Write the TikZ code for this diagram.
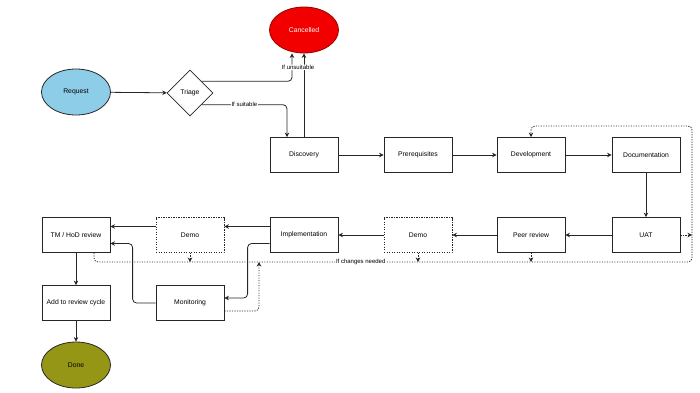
\documentclass[tikz,border=0pt]{standalone}
\usepackage{fontspec}
\setmainfont{Liberation Sans}
\usepackage{xcolor}
\usetikzlibrary{arrows.meta,shapes.geometric,calc}
\definecolor{reqblue}{RGB}{142,205,232}
\definecolor{cancelred}{RGB}{242,0,0}
\definecolor{doneolive}{RGB}{150,150,22}

\begin{document}
\begin{tikzpicture}[x=1pt, y=-1pt, line width=0.8pt,
    stepbox/.style={draw=black!85, fill=white, minimum width=68pt, minimum height=35pt, inner sep=1pt, font=\fontsize{6.8}{8}\selectfont},
    demobox/.style={stepbox, dash pattern=on 1.2pt off 1.3pt},
    terminal/.style={ellipse, draw=black!85, minimum width=69pt, minimum height=46pt, inner sep=0pt, font=\fontsize{6.8}{8}\selectfont},
    flow/.style={draw=black!85, rounded corners=4pt, -{Stealth[length=4.5pt,width=4.5pt]}},
    rework/.style={flow, dash pattern=on 1.2pt off 1.3pt},
    cond/.style={fill=white, inner sep=0.6pt, font=\fontsize{6}{7}\selectfont}
]
\useasboundingbox (0,0) rectangle (700,392);
\node[terminal, fill=cancelred, draw=red!60!black, text=white] (cancel) at (304,30) {Cancelled};
\node[terminal, fill=reqblue] (request) at (76,92) {Request};
\node[diamond, draw=black!85, fill=white, aspect=1, minimum size=46pt, inner sep=0pt, font=\fontsize{6.8}{8}\selectfont] (triage) at (190,93) {Triage};
\foreach \x/\name/\txt in {304/disc/Discovery, 418/prereq/Prerequisites, 531/dev/Development, 646/doc/Documentation} {
    \node[stepbox] (\name) at (\x,155) {\txt};
}
\node[stepbox] (review) at (76,235) {TM / HoD review};
\node[demobox] (demoa) at (190,235) {Demo};
\node[stepbox] (impl) at (304,235) {Implementation};
\node[demobox] (demob) at (418,235) {Demo};
\node[stepbox] (peer) at (531,235) {Peer review};
\node[stepbox] (uat) at (646,235) {UAT};
\node[stepbox] (cycle) at (76,303) {Add to review cycle};
\node[stepbox] (monitor) at (190,303) {Monitoring};
\node[terminal, fill=doneolive] (done) at (76,365) {Done};
\coordinate (loopcorner) at (692,262);
\coordinate (looptop) at (692,126);
\coordinate (monjoin) at (259,262);

\draw[flow] (request) -- (triage);
\draw[flow] (disc.north) -- (cancel.south);
\draw[flow] (triage.north east) -| ([xshift=-12pt]cancel.south) node[cond, pos=0.75, xshift=6pt] {If unsuitable};
\draw[flow] (triage.south east) -| ([xshift=-17pt]disc.north) node[cond, pos=0.25] {If suitable};
\foreach \a/\b in {disc/prereq, prereq/dev, dev/doc, doc/uat, uat/peer, peer/demob, demob/impl, review/cycle, cycle/done} {
    \draw[flow] (\a) -- (\b);
}
\draw[flow] ([yshift=8.5pt]impl.west) -- ([yshift=8.5pt]demoa.east);
\draw[flow] ([yshift=8.5pt]demoa.west) -- ([yshift=8.5pt]review.east);
\draw[flow] ([yshift=-8.5pt]impl.west) -- ++(-22,0) |- ([yshift=5pt]monitor.east);
\draw[flow] (monitor.west) -- ++(-23,0) |- ([yshift=-8.5pt]review.east);
\draw[rework] ([xshift=18pt]review.south) |- (loopcorner) node[cond, pos=0.723] {If changes needed} -- (looptop) -| (dev.north);
\foreach \n in {demoa, demob, peer} {
    \draw[rework] (\n.south) -- (\n.south |- loopcorner);
}
\draw[rework] (uat.east) -- (uat.east -| loopcorner);
\draw[rework] ([yshift=-8pt]monitor.east) -| (monjoin);
\end{tikzpicture}
\end{document}
